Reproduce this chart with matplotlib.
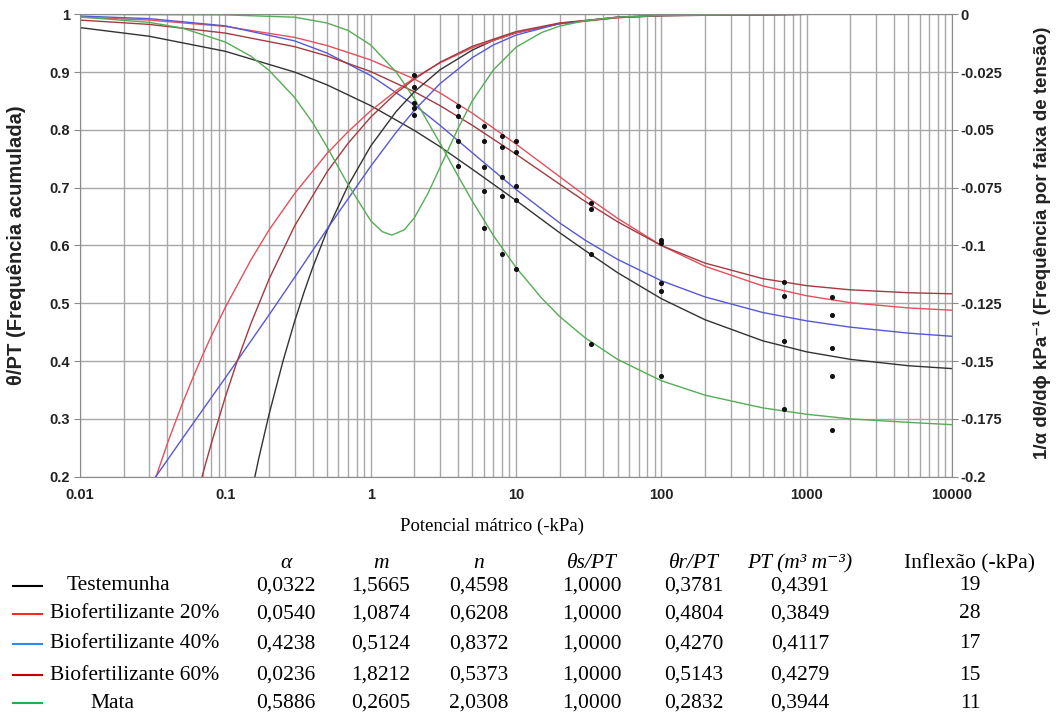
# Curva de retenção de água e frequência por faixa de tensão
import matplotlib.pyplot as plt
from matplotlib.lines import Line2D
from matplotlib.ticker import FixedLocator, LogLocator, NullFormatter, FuncFormatter

plt.rcParams['font.family'] = ['Liberation Sans', 'DejaVu Sans']
plt.rcParams['axes.unicode_minus'] = False

# Tratamentos e parâmetros da tabela
tratamentos = ['Testemunha', 'Biofertilizante 20%', 'Biofertilizante 40%',
               'Biofertilizante 60%', 'Mata']
alfa = [0.0322, 0.0540, 0.4238, 0.0236, 0.5886]
m_par = [1.5665, 1.0874, 0.5124, 1.8212, 0.2605]
n_par = [0.4598, 0.6208, 0.8372, 0.5373, 2.0308]
theta_s = [1.0, 1.0, 1.0, 1.0, 1.0]
theta_r = [0.3781, 0.4804, 0.4270, 0.5143, 0.2832]
pt = [0.4391, 0.3849, 0.4117, 0.4279, 0.3944]
inflexao = [19, 28, 17, 15, 11]

# Curvas de retenção (theta/PT)
psi_ret = [0.01, 0.03, 0.1, 0.3, 0.5, 1, 2, 3, 5, 10, 20, 30, 50, 100,
           200, 500, 1000, 2000, 5000, 10000]
ret_test = [0.977, 0.962, 0.936, 0.900, 0.878, 0.842, 0.799, 0.771, 0.732, 0.678,
            0.622, 0.591, 0.553, 0.508, 0.4715, 0.435, 0.416, 0.403, 0.392, 0.387]
ret_bio20 = [0.995, 0.990, 0.979, 0.960, 0.946, 0.921, 0.888, 0.864, 0.829, 0.7755,
             0.719, 0.686, 0.647, 0.600, 0.564, 0.530, 0.513, 0.501, 0.492, 0.488]
ret_bio40 = [0.997, 0.9925, 0.980, 0.954, 0.933, 0.894, 0.843, 0.808, 0.7605, 0.697,
             0.639, 0.609, 0.576, 0.539, 0.511, 0.484, 0.4696, 0.4587, 0.4484, 0.4429]
ret_bio60 = [0.990, 0.9825, 0.9675, 0.944, 0.928, 0.901, 0.866, 0.842, 0.808, 0.758,
             0.706, 0.676, 0.641, 0.600, 0.5695, 0.5426, 0.5305, 0.5233, 0.5183, 0.5164]
psi_ret_mata = [0.01, 0.1, 0.3, 0.5, 0.7, 1, 1.5, 2, 3, 4, 5, 7, 10, 15, 20, 30,
                50, 100, 200, 500, 1000, 2000, 5000, 10000]
ret_mata = [1.000, 0.999, 0.995, 0.985, 0.972, 0.947, 0.900, 0.854, 0.777, 0.720,
            0.677, 0.617, 0.562, 0.509, 0.477, 0.440, 0.403, 0.366, 0.341, 0.319,
            0.308, 0.300, 0.294, 0.290]

psi_fr_test = [0.15, 0.17, 0.2, 0.25, 0.3, 0.35, 0.4, 0.5, 0.7, 1, 1.5, 2, 3, 5, 7,
               10, 20, 50, 100, 1000, 10000]
fr_test = [0.168, 0.232, 0.308, 0.401, 0.469, 0.521, 0.5625, 0.625, 0.704, 0.772,
           0.832, 0.866, 0.904, 0.938, 0.955, 0.968, 0.984, 0.9944, 0.9976, 1.0, 1.0]
psi_fr_bio20 = [0.02, 0.025, 0.03, 0.04, 0.05, 0.06, 0.07, 0.08, 0.1, 0.15, 0.2,
                0.3, 0.5, 0.7, 1, 1.5, 2, 3, 5, 10, 20, 50, 100, 1000, 10000]
fr_bio20 = [0.020, 0.103, 0.166, 0.258, 0.323, 0.372, 0.411, 0.443, 0.493, 0.575,
            0.627, 0.690, 0.759, 0.797, 0.833, 0.868, 0.890, 0.916, 0.942, 0.968,
            0.9835, 0.994, 0.9976, 1.0, 1.0]
psi_fr_bio40 = [0.02, 0.03, 0.05, 0.1, 0.2, 0.3, 0.5, 0.7, 1, 1.5, 2, 3, 5, 7, 10,
                20, 50, 100, 1000, 10000]
fr_bio40 = [0.119, 0.184, 0.264, 0.371, 0.480, 0.545, 0.628, 0.681, 0.737, 0.796,
            0.834, 0.880, 0.925, 0.947, 0.964, 0.984, 0.9953, 0.998, 1.0, 1.0]
psi_fr_bio60 = [0.05, 0.06, 0.07, 0.08, 0.1, 0.12, 0.15, 0.2, 0.3, 0.5, 0.7, 1, 1.5,
                2, 3, 5, 10, 20, 50, 100, 1000, 10000]
fr_bio60 = [0.0575, 0.140, 0.205, 0.257, 0.338, 0.398, 0.465, 0.542, 0.634, 0.727,
            0.777, 0.822, 0.864, 0.888, 0.917, 0.9446, 0.970, 0.985, 0.9948, 0.998,
            1.0, 1.0]
psi_fr_mata = [0.01, 0.03, 0.05, 0.1, 0.15, 0.2, 0.3, 0.4, 0.5, 0.7, 1, 1.2, 1.4,
               1.7, 2, 2.5, 3, 4, 5, 7, 10, 15, 20, 30, 50, 100, 1000, 10000]
fr_mata = [0.9955, 0.986, 0.9765, 0.952, 0.9275, 0.903, 0.856, 0.812, 0.771, 0.705,
           0.643, 0.624, 0.618, 0.627, 0.648, 0.692, 0.735, 0.803, 0.850, 0.904,
           0.943, 0.9685, 0.9796, 0.989, 0.995, 0.998, 1.0, 1.0]

# Pontos observados
obs_psi = [2, 2, 2, 2, 2, 4, 4, 4, 4, 6, 6, 6, 6, 6, 8, 8, 8, 8, 8,
           10, 10, 10, 10, 10, 33, 33, 33, 33, 100, 100, 100, 100, 100,
           700, 700, 700, 700, 1500, 1500, 1500, 1500, 1500]
obs_theta = [0.895, 0.875, 0.847, 0.838, 0.826, 0.841, 0.824, 0.781, 0.738,
             0.806, 0.780, 0.736, 0.694, 0.630, 0.789, 0.771, 0.718, 0.686, 0.585,
             0.780, 0.761, 0.703, 0.678, 0.559, 0.674, 0.664, 0.585, 0.429,
             0.610, 0.604, 0.535, 0.521, 0.375, 0.537, 0.513, 0.435, 0.317,
             0.511, 0.480, 0.422, 0.375, 0.280]

xticks = [0.01, 0.1, 1, 10, 100, 1000, 10000]
yticks = [0.2, 0.3, 0.4, 0.5, 0.6, 0.7, 0.8, 0.9, 1.0]
yticks_dir = [-0.2, -0.175, -0.15, -0.125, -0.1, -0.075, -0.05, -0.025, 0]

cores = ['#333333', '#e4505c', '#5858d4', '#a33a42', '#55ad55']
cores_legenda = ['#000000', '#ff2b2b', '#2a8cf0', '#c00000', '#19b44a']

fig = plt.figure(figsize=(10.58, 7.15), dpi=100)
ax = fig.add_axes([0.0756, 0.3333, 0.8242, 0.6467])
ax.set_xscale('log')
ax.set_xlim(0.01, 10000)
ax.set_ylim(0.2, 1)

ax.xaxis.set_major_locator(FixedLocator(xticks))
ax.xaxis.set_minor_locator(LogLocator(base=10, subs=range(2, 10), numticks=50))
ax.xaxis.set_minor_formatter(NullFormatter())
ax.xaxis.set_major_formatter(FuncFormatter(lambda v, p: f'{v:g}'))
ax.yaxis.set_major_locator(FixedLocator(yticks))
ax.yaxis.set_major_formatter(FuncFormatter(lambda v, p: f'{v:g}'))

ax.grid(True, which='both', axis='x', color='#a8a8a8', lw=1.0)
ax.grid(True, which='major', axis='y', color='#a8a8a8', lw=1.0)
ax.set_axisbelow(True)
for s in ax.spines.values():
    s.set_color('#8a8a8a')
ax.tick_params(which='both', length=0)
ax.tick_params(axis='x', which='major', pad=8)
ax.tick_params(axis='y', which='major', length=4, color='#8a8a8a', pad=3)
for lab in ax.get_xticklabels() + ax.get_yticklabels():
    lab.set_fontweight('bold')
    lab.set_fontsize(10.5)
    lab.set_color('#222222')

# curvas de retenção
ax.plot(psi_ret, ret_test, color=cores[0], lw=1.0)
ax.plot(psi_ret, ret_bio20, color=cores[1], lw=1.0)
ax.plot(psi_ret, ret_bio40, color=cores[2], lw=1.0)
ax.plot(psi_ret, ret_bio60, color=cores[3], lw=1.0)
ax.plot(psi_ret_mata, ret_mata, color=cores[4], lw=1.0)

# curvas de frequência
ax.plot(psi_fr_test, fr_test, color=cores[0], lw=1.0)
ax.plot(psi_fr_bio20, fr_bio20, color=cores[1], lw=1.0)
ax.plot(psi_fr_bio40, fr_bio40, color=cores[2], lw=1.0)
ax.plot(psi_fr_bio60, fr_bio60, color=cores[3], lw=1.0)
ax.plot(psi_fr_mata, fr_mata, color=cores[4], lw=1.0)

ax.scatter(obs_psi, obs_theta, s=7, color='#111111', zorder=5)

# eixo da direita
ax2 = ax.twinx()
ax2.set_ylim(-0.2, 0)
ax2.yaxis.set_major_locator(FixedLocator(yticks_dir))
ax2.yaxis.set_major_formatter(FuncFormatter(lambda v, p: f'{v:g}'))
ax2.tick_params(axis='y', length=4, color='#8a8a8a', pad=2)
for s in ax2.spines.values():
    s.set_visible(False)
for lab in ax2.get_yticklabels():
    lab.set_fontweight('bold')
    lab.set_fontsize(10.5)
    lab.set_color('#222222')

W, H = 1058, 715
fig.text(17 / W, 1 - 245 / H, 'θ/PT (Frequência acumulada)', rotation=90,
         ha='center', va='center', fontsize=14.5, fontweight='bold', color='#222222')
fig.text(1042 / W, 1 - 243 / H, '1/α dθ/dϕ kPa⁻¹ (Frequência por faixa de tensão)',
         rotation=90, ha='center', va='center', fontsize=13.5, fontweight='bold',
         color='#222222')
fig.text(492 / W, 1 - 526 / H, 'Potencial mátrico (-kPa)', ha='center', va='center',
         fontsize=13.5, family=['Liberation Serif', 'DejaVu Serif'])

# tabela de parâmetros
serif = ['Liberation Serif', 'DejaVu Serif']
fs = 15.5
col_x = [286, 381, 479, 592, 694, 800, 970]
cabecalho = ['α', 'm', 'n', 'θs/PT', 'θr/PT', 'PT (m³ m⁻³)', 'Inflexão (-kPa)']
for i, (cx, txt) in enumerate(zip(col_x, cabecalho)):
    fig.text(cx / W, 1 - 564 / H, txt, ha='center', va='center', fontsize=fs,
             family=serif, style='normal' if i == 6 else 'italic')

linha_y = [586, 614, 644, 675, 703]
rotulo_x = [67, 50, 50, 50, 90]
fmt = lambda v: f'{v:.4f}'.replace('.', ',')
for k, nome in enumerate(tratamentos):
    y = 1 - linha_y[k] / H
    fig.add_artist(Line2D([13 / W, 42 / W], [y, y], transform=fig.transFigure,
                          color=cores_legenda[k], lw=1.5))
    fig.text(rotulo_x[k] / W, y, nome, ha='left', va='center', fontsize=fs, family=serif)
    valores = [fmt(alfa[k]), fmt(m_par[k]), fmt(n_par[k]), fmt(theta_s[k]),
               fmt(theta_r[k]), fmt(pt[k]), str(inflexao[k])]
    for cx, v in zip(col_x, valores):
        fig.text(cx / W, y, v, ha='center', va='center', fontsize=fs, family=serif)

fig.savefig('out.png', dpi=100)
